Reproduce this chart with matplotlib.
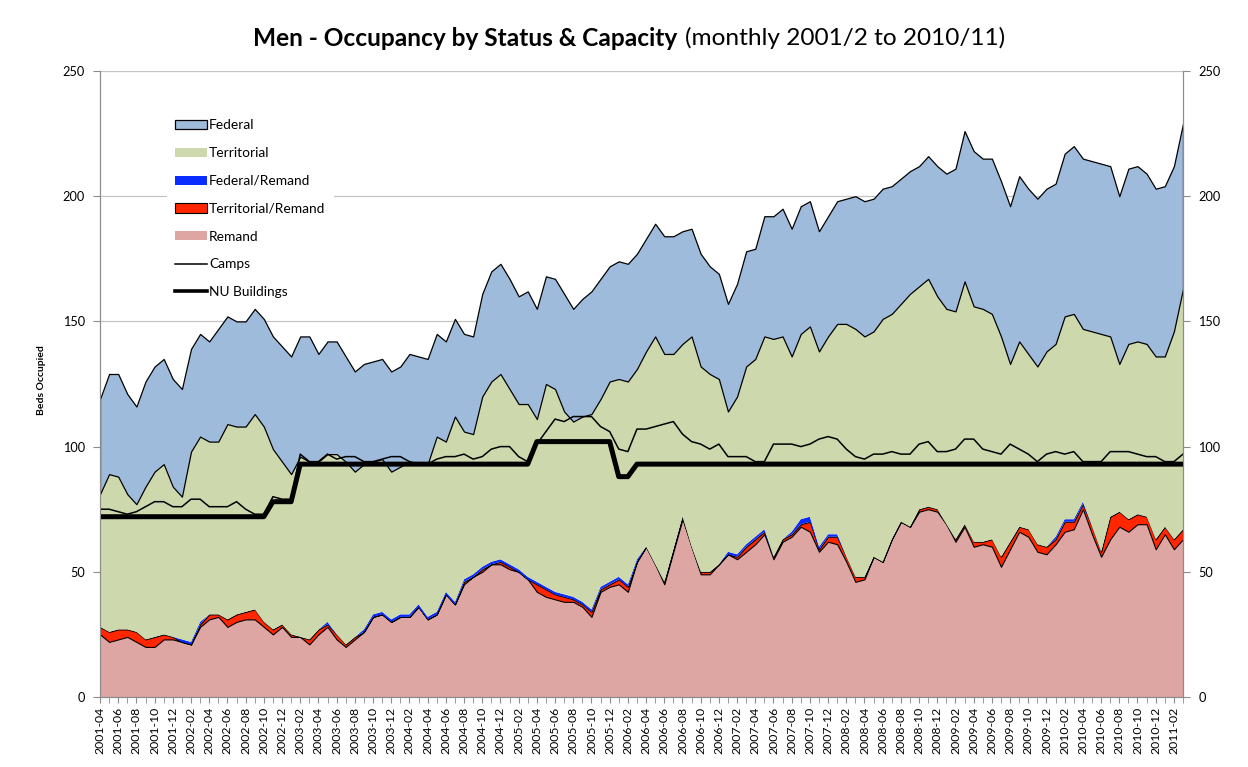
import matplotlib
matplotlib.use("Agg")
import matplotlib.pyplot as plt
import numpy as np
import pandas as pd

plt.rcParams['font.family'] = ['Lato', 'DejaVu Sans']

# monthly categories, 2001-04 .. 2011-03
months = pd.period_range('2001-04', periods=120, freq='M').strftime('%Y-%m').tolist()

remand = [25, 22, 23, 24, 22, 20, 20, 23, 23, 22,
          21, 28, 31, 32, 28, 30, 31, 31, 28, 25,
          28, 24, 24, 21, 25, 28, 23, 20, 23, 26,
          32, 33, 30, 32, 32, 36, 31, 33, 41, 37,
          45, 48, 50, 53, 53, 51, 50, 47, 42, 40,
          39, 38, 38, 36, 32, 42, 44, 45, 42, 54,
          60, 53, 45, 58, 71, 60, 49, 49, 53, 57,
          55, 58, 61, 65, 55, 62, 64, 68, 66, 58,
          62, 61, 54, 46, 47, 56, 54, 63, 70, 68,
          74, 75, 74, 69, 62, 68, 60, 61, 60, 52,
          59, 66, 64, 58, 57, 61, 66, 67, 75, 65,
          56, 63, 68, 66, 69, 69, 59, 65, 59, 63]

terr_remand = [3, 4, 4, 3, 4, 3, 4, 2, 1, 0,
               0, 1, 2, 1, 3, 3, 3, 4, 2, 2,
               1, 1, 0, 2, 2, 1, 2, 1, 1, 0,
               0, 0, 0, 0, 0, 0, 0, 0, 0, 0,
               1, 0, 1, 0, 1, 1, 0, 0, 3, 3,
               2, 2, 1, 1, 2, 1, 1, 2, 2, 0,
               0, 0, 1, 1, 1, 0, 1, 1, 0, 0,
               1, 2, 2, 1, 1, 1, 1, 1, 4, 1,
               2, 3, 2, 2, 1, 0, 0, 0, 0, 0,
               1, 1, 1, 0, 1, 1, 2, 1, 3, 4,
               3, 2, 3, 3, 3, 2, 4, 3, 2, 3,
               2, 9, 6, 5, 4, 3, 4, 3, 4, 4]

fed_remand = [0, 0, 0, 0, 0, 0, 0, 0, 0, 1,
              1, 1, 0, 0, 0, 0, 0, 0, 0, 0,
              0, 0, 0, 0, 0, 1, 0, 0, 0, 1,
              1, 1, 1, 1, 1, 1, 1, 1, 1, 1,
              1, 1, 1, 1, 1, 1, 1, 1, 1, 1,
              1, 1, 1, 1, 1, 1, 1, 1, 1, 1,
              0, 0, 0, 0, 0, 0, 0, 0, 0, 1,
              1, 1, 1, 1, 0, 0, 1, 2, 2, 1,
              1, 1, 0, 0, 0, 0, 0, 0, 0, 0,
              0, 0, 0, 0, 0, 0, 0, 0, 0, 0,
              0, 0, 0, 0, 0, 1, 1, 1, 1, 0,
              0, 0, 0, 0, 0, 0, 0, 0, 0, 0]

territorial = [53, 63, 61, 54, 51, 61, 66, 68, 60, 57,
               76, 74, 69, 69, 78, 75, 74, 78, 78, 72,
               65, 64, 72, 71, 67, 67, 72, 73, 66, 66,
               61, 61, 59, 59, 61, 56, 61, 70, 60, 74,
               59, 56, 68, 72, 74, 70, 66, 69, 65, 81,
               81, 73, 70, 74, 78, 75, 80, 79, 81, 76,
               78, 91, 91, 78, 69, 84, 82, 79, 74, 56,
               63, 71, 71, 77, 87, 81, 70, 74, 76, 78,
               79, 84, 93, 99, 96, 90, 97, 90, 87, 93,
               89, 91, 85, 86, 91, 97, 94, 93, 90, 88,
               71, 74, 70, 71, 78, 77, 81, 82, 69, 78,
               87, 72, 59, 70, 69, 69, 73, 68, 83, 96]

federal = [38, 40, 41, 40, 39, 42, 42, 42, 43, 43,
           41, 41, 40, 45, 43, 42, 42, 42, 43, 45,
           46, 47, 48, 50, 43, 45, 45, 42, 40, 40,
           40, 40, 40, 40, 43, 43, 42, 41, 40, 39,
           39, 39, 41, 44, 44, 44, 43, 45, 44, 43,
           44, 47, 45, 47, 49, 48, 46, 47, 47, 46,
           45, 45, 47, 47, 45, 43, 45, 43, 42, 43,
           45, 46, 44, 48, 49, 51, 51, 51, 50, 48,
           48, 49, 50, 53, 54, 53, 52, 51, 50, 49,
           48, 49, 52, 54, 57, 60, 62, 60, 62, 62,
           63, 66, 66, 67, 65, 64, 65, 67, 68, 68,
           68, 68, 67, 70, 70, 68, 67, 68, 66, 66]

camps = [75, 75, 74, 73, 74, 76, 78, 78, 76, 76,
         79, 79, 76, 76, 76, 78, 75, 73, 73, 80,
         79, 79, 97, 94, 94, 97, 95, 96, 96, 94,
         94, 95, 96, 96, 94, 93, 93, 95, 96, 96,
         97, 95, 96, 99, 100, 100, 96, 94, 101, 106,
         111, 110, 112, 112, 112, 108, 106, 99, 98, 107,
         107, 108, 109, 110, 105, 102, 101, 99, 101, 96,
         96, 96, 94, 94, 101, 101, 101, 100, 101, 103,
         104, 103, 99, 96, 95, 97, 97, 98, 97, 97,
         101, 102, 98, 98, 99, 103, 103, 99, 98, 97,
         101, 99, 97, 94, 97, 98, 97, 98, 94, 94,
         94, 98, 98, 98, 97, 96, 96, 94, 94, 97]

nu_buildings = [72] * 19 + [78] * 3 + [93] * 26 + [102] * 9 + [88] * 2 + [93] * 61

colors = {
    'Federal': '#9FBBDC',
    'Territorial': '#CDD8AC',
    'Federal/Remand': '#0A2CFF',
    'Territorial/Remand': '#FF2600',
    'Remand': '#DDA6A3',
}

W, H = 1248, 767
fig = plt.figure(figsize=(W / 100, H / 100), dpi=100)
ax = fig.add_axes([100 / W, 70 / H, 1083 / W, 626 / H])

x = np.arange(len(months))
stack = [('Remand', remand, 'none', 0),
         ('Territorial/Remand', terr_remand, 'black', 0.8),
         ('Federal/Remand', fed_remand, 'none', 0),
         ('Territorial', territorial, 'none', 0),
         ('Federal', federal, 'black', 0.9)]

handles = {}
base = np.zeros(len(x))
for name, vals, edge, lw in stack:
    top = base + np.array(vals)
    handles[name] = ax.fill_between(x, base, top, facecolor=colors[name],
                                    edgecolor=edge, linewidth=lw, label=name, zorder=2)
    base = top

handles['Camps'], = ax.plot(x, camps, color='black', lw=1.1, zorder=3, label='Camps')
handles['NU Buildings'], = ax.plot(x, nu_buildings, color='black', lw=3.6, zorder=4,
                                   label='NU Buildings')

ax.set_xlim(0, len(x) - 1)
ax.set_ylim(0, 250)
ax.set_yticks(range(0, 251, 50))
ax.yaxis.grid(True, color='#C4C4C4', lw=0.9)
ax.set_axisbelow(True)

ax.set_xticks(x[::2])
ax.set_xticklabels(months[::2], rotation=90, fontsize=8.8)
ax.set_xticks(x, minor=True)
ax.tick_params(axis='x', which='both', direction='out', length=4, color='#8C8C8C', pad=3)
ax.tick_params(axis='y', direction='out', length=5, color='#8C8C8C', labelsize=9.2, pad=6)

for s in ['left', 'bottom', 'right']:
    ax.spines[s].set_color('#8C8C8C')
ax.spines['top'].set_visible(False)

ax2 = ax.twinx()
ax2.set_ylim(0, 250)
ax2.set_yticks(range(0, 251, 50))
ax2.tick_params(axis='y', direction='out', length=5, color='#8C8C8C', labelsize=9.2, pad=6)
for s in ['left', 'bottom', 'right']:
    ax2.spines[s].set_color('#8C8C8C')
ax2.spines['top'].set_visible(False)

order = ['Federal', 'Territorial', 'Federal/Remand', 'Territorial/Remand',
         'Remand', 'Camps', 'NU Buildings']
leg = ax.legend([handles[k] for k in order], order, loc='upper left',
                bbox_to_anchor=(0.0616, 0.936), borderaxespad=0, borderpad=0.6,
                frameon=True, facecolor='white', edgecolor='none', framealpha=1,
                fontsize=9.9, labelspacing=1.15, handlelength=2.35, handleheight=0.65,
                handletextpad=0.12)
leg.legend_handles[6].set_linewidth(2.6)
leg.set_zorder(5)

fig.text(42 / W, 1 - 380 / H, 'Beds Occupied', rotation=90, fontsize=7.5,
         fontweight='bold', ha='center', va='center')

# title: bold part + normal part, centred together
t1 = fig.text(0, 1 - 38 / H, 'Men - Occupancy by Status & Capacity', fontsize=17.6,
              fontweight='bold', ha='left', va='center')
t2 = fig.text(0, 1 - 38 / H, '(monthly 2001/2 to 2010/11)', fontsize=17.6,
              ha='left', va='center')
fig.canvas.draw()
r = fig.canvas.get_renderer()
w1 = t1.get_window_extent(r).width
w2 = t2.get_window_extent(r).width
gap = 7
x0 = 629 - (w1 + gap + w2) / 2
t1.set_x(x0 / W)
t2.set_x((x0 + w1 + gap) / W)

fig.savefig('out.png', dpi=100)
